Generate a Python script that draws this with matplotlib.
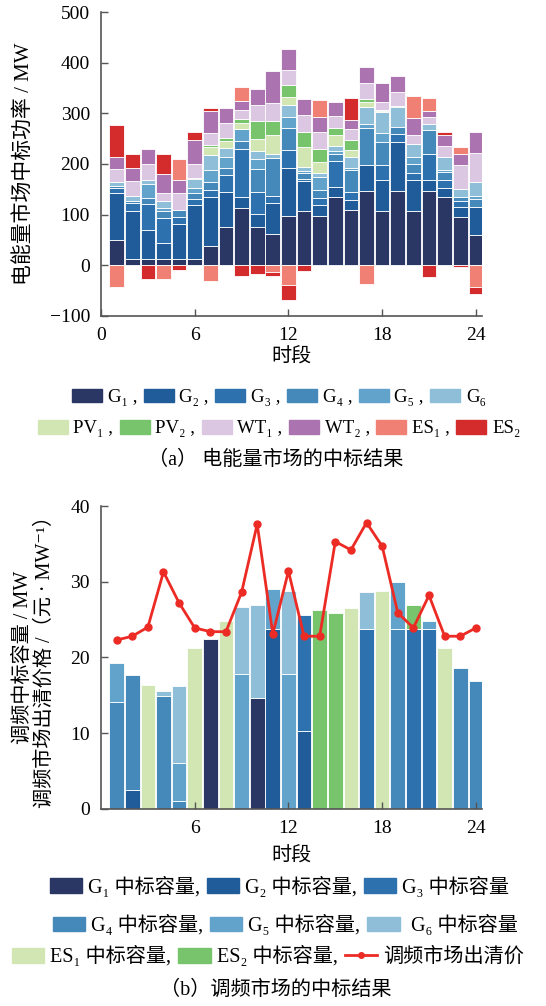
import matplotlib
matplotlib.use("Agg")
import numpy as np
from matplotlib import pyplot as plt
from matplotlib.patches import Patch
from matplotlib.lines import Line2D

plt.rcParams["font.family"] = ["Liberation Serif", "DejaVu Serif", "Noto Sans CJK SC"]

hours = np.arange(1, 25)

# ---- (a) energy market, MW ----
G1 = [50, 13, 13, 13, 13, 13, 39, 76, 114, 76, 61, 98, 108, 98, 135, 109, 147, 108, 146, 108, 147, 134, 96, 59]
G2 = [92, 95, 57, 30, 69, 105, 95, 68, 20, 25, 61, 95, 58, 20, 20, 20, 51, 60, 98, 60, 21, 19, 20, 57]
G3 = [10, 14, 50, 50, 14, 12, 15, 34, 96, 44, 15, 35, 5, 14, 50, 15, 0, 29, 15, 15, 52, 15, 10, 0]
G4 = [5, 5, 13, 15, 14, 12, 15, 15, 16, 45, 75, 43, 12, 17, 14, 44, 73, 46, 15, 17, 47, 16, 9, 15]
G5 = [0, 0, 27, 5, 0, 10, 24, 20, 23, 20, 0, 21, 3, 25, 7, 5, 7, 19, 0, 14, 0, 4, 0, 6]
G6 = [8, 9, 9, 13, 0, 18, 30, 18, 0, 16, 8, 25, 9, 9, 10, 21, 35, 40, 38, 25, 12, 25, 16, 27]
PV1 = [0, 0, 0, 0, 0, 0, 15, 15, 11, 23, 37, 16, 39, 20, 21, 14, 10, 2, 1, 0, 0, 0, 0, 0]
PV2 = [0, 0, 0, 0, 0, 2, 5, 6, 9, 35, 28, 23, 30, 27, 15, 20, 6, 2, 2, 0, 0, 0, 0, 0]
WT1 = [25, 30, 31, 16, 32, 28, 24, 29, 18, 33, 35, 30, 33, 34, 23, 22, 31, 17, 28, 19, 14, 23, 46, 57]
WT2 = [23, 26, 30, 39, 27, 48, 43, 29, 18, 32, 63, 41, 32, 29, 27, 17, 31, 36, 30, 33, 12, 21, 23, 43]
ES1 = [-42, 0, 0, -28, 41, 0, -32, 0, 27, 0, -14, -39, 0, 33, 0, 0, -37, 0, 0, 44, 26, 0, 13, -43]
ES2 = [64, 28, -27, 39, -10, 16, 5, 0, -22, -17, -8, -29, -12, 0, 0, 43, 0, 0, 0, 0, -24, 7, -4, -13]

# ---- (b) regulation market, MW ----
bG1 = [0, 0, 0, 0, 0, 0, 22.4, 0, 0, 14.6, 0, 0, 0, 0, 0, 0, 0, 0, 0, 0, 0, 0, 0, 0]
bG2 = [0, 2.5, 0, 0, 0, 0, 0, 0, 0, 0, 23.8, 0, 10.3, 0, 0, 0, 0, 0, 0, 0, 0, 0, 0, 0]
bG3 = [0, 0, 0, 0, 0, 0, 0, 0, 0, 0, 0, 0, 15.3, 0, 0, 0, 23.8, 0, 0, 23.8, 23.8, 0, 0, 0]
bG4 = [14.1, 15.2, 0, 14.9, 1.0, 0, 0, 0, 0, 0, 0, 0, 0, 0, 0, 0, 0, 0, 23.8, 0, 0, 0, 18.6, 16.9]
bG5 = [5.2, 0, 0, 0, 5.0, 0, 0, 0, 17.8, 0, 5.3, 17.8, 0, 0, 0, 0, 0, 0, 6.1, 0, 1.0, 0, 0, 0]
bG6 = [0, 0, 0, 0.7, 10.2, 0, 0, 0, 8.9, 12.3, 0, 11.0, 0, 0, 0, 0, 4.8, 0, 0, 0, 0, 0, 0, 0]
bES1 = [0, 0, 16.4, 0, 0, 21.2, 0, 24.8, 0, 0, 0, 0, 0, 0, 0, 26.5, 0, 28.8, 0, 0, 0, 21.3, 0, 0]
bES2 = [0, 0, 0, 0, 0, 0, 0, 0, 0, 0, 0, 0, 0, 26.2, 25.9, 0, 0, 0, 0, 3.1, 0, 0, 0, 0]
price = [22.3, 22.8, 24.0, 31.3, 27.2, 23.9, 23.4, 23.4, 28.6, 37.6, 23.1, 31.4,
         22.8, 22.8, 35.3, 34.2, 37.8, 34.7, 25.9, 23.9, 28.2, 22.8, 22.8, 23.9]

blues = ["#2a3664", "#205b9a", "#2d72ae", "#4589bb", "#62a3cb", "#8fbed8"]
c_pv1, c_pv2 = "#d2e6b4", "#78c46c"
c_wt1, c_wt2 = "#dcc7e2", "#ab74b0"
c_es1, c_es2 = "#f08074", "#d42c2c"
c_line = "#ec2b25"
spine_c = "#555555"
W = 0.94


def style_axes(ax):
    for s in ("top", "right"):
        ax.spines[s].set_visible(False)
    for s in ("left", "bottom"):
        ax.spines[s].set_color(spine_c)
        ax.spines[s].set_linewidth(1.2)
    ax.tick_params(direction="in", length=5, width=1.0, color=spine_c, labelsize=14)
    ax.tick_params(axis="x", pad=8)
    ax.tick_params(axis="y", pad=8)


def stack(ax, series, colors):
    pos = np.zeros(24)
    neg = np.zeros(24)
    for vals, c in zip(series, colors):
        v = np.array(vals, float)
        p = np.clip(v, 0, None)
        n = np.clip(v, None, 0)
        m = p > 0
        ax.bar(hours[m], p[m], W, bottom=pos[m], color=c, edgecolor="white", linewidth=0.6)
        m = n < 0
        ax.bar(hours[m], n[m], W, bottom=neg[m], color=c, edgecolor="white", linewidth=0.6)
        pos += p
        neg += n


def row_legend(handles, labels, x, y, size, loc="center"):
    fig.legend(handles, labels, loc=loc, bbox_to_anchor=(x, y), ncol=len(labels),
               frameon=False, fontsize=size, handlelength=1.6, handleheight=0.75,
               handletextpad=0.3, columnspacing=0.35, borderpad=0, borderaxespad=0)


fig = plt.figure(figsize=(5.46, 10.06), dpi=100)

# (a)
ax1 = fig.add_axes([0.185, 0.686, 0.698, 0.302])
stack(ax1, [G1, G2, G3, G4, G5, G6, PV1, PV2, WT1, WT2, ES1, ES2],
      blues + [c_pv1, c_pv2, c_wt1, c_wt2, c_es1, c_es2])
ax1.set_xlim(0, 24.4)
ax1.set_ylim(-100, 500)
ax1.set_xticks([0, 6, 12, 18, 24])
ax1.set_yticks(range(-100, 501, 100))
style_axes(ax1)
ax1.set_xlabel("时段", fontsize=14.5, labelpad=3)
ax1.set_ylabel("电能量市场中标功率 / MW", fontsize=15)
ax1.yaxis.set_label_coords(-0.175, 0.5)

names_a = ["G₁ ,", "G₂ ,", "G₃ ,", "G₄ ,", "G₅ ,", "G₆"]
row_legend([Patch(color=c) for c in blues], names_a, 0.511, 0.605, 13.5)
names_a2 = ["PV₁ ,", "PV₂ ,", "WT₁ ,", "WT₂ ,", "ES₁ ,", "ES₂"]
row_legend([Patch(color=c) for c in [c_pv1, c_pv2, c_wt1, c_wt2, c_es1, c_es2]],
           names_a2, 0.511, 0.574, 13.5)
fig.text(0.505, 0.542, "（a） 电能量市场的中标结果", ha="center", va="center", fontsize=14.5)

# (b)
ax2 = fig.add_axes([0.185, 0.196, 0.698, 0.301])
stack(ax2, [bG1, bG2, bG3, bG4, bG5, bG6, bES1, bES2], blues + [c_pv1, c_pv2])
ax2.plot(hours, price, color=c_line, lw=2, marker="o", ms=5, zorder=5)
ax2.set_xlim(0, 24.4)
ax2.set_ylim(0, 40)
ax2.set_xticks([6, 12, 18, 24])
ax2.set_yticks([0, 10, 20, 30, 40])
style_axes(ax2)
ax2.set_xlabel("时段", fontsize=14.5, labelpad=8)
ax2.set_ylabel("调频中标容量 / MW\n调频市场出清价格 /（元 · MW⁻¹）", fontsize=14.5,
               linespacing=1.15)
ax2.yaxis.set_label_coords(-0.122, 0.5)

lab = " 中标容量"
row_legend([Patch(color=blues[0]), Patch(color=blues[1]), Patch(color=blues[2])],
           ["G₁" + lab + ",", "G₂" + lab + ",", "G₃" + lab], 0.512, 0.118, 14.5)
row_legend([Patch(color=blues[3]), Patch(color=blues[4]), Patch(color=blues[5])],
           ["G₄" + lab + ",", "G₅" + lab + ",", " G₆" + lab], 0.522, 0.080, 14.5)
row_legend([Patch(color=c_pv1), Patch(color=c_pv2),
            Line2D([], [], color=c_line, lw=2, marker="o", ms=4)],
           ["ES₁" + lab + ",", "ES₂" + lab + ",", "调频市场出清价"], 0.022, 0.049, 14.5,
           loc="center left")
fig.text(0.505, 0.016, "（b）调频市场的中标结果", ha="center", va="center", fontsize=14.5)

fig.savefig("out.png", dpi=100)
